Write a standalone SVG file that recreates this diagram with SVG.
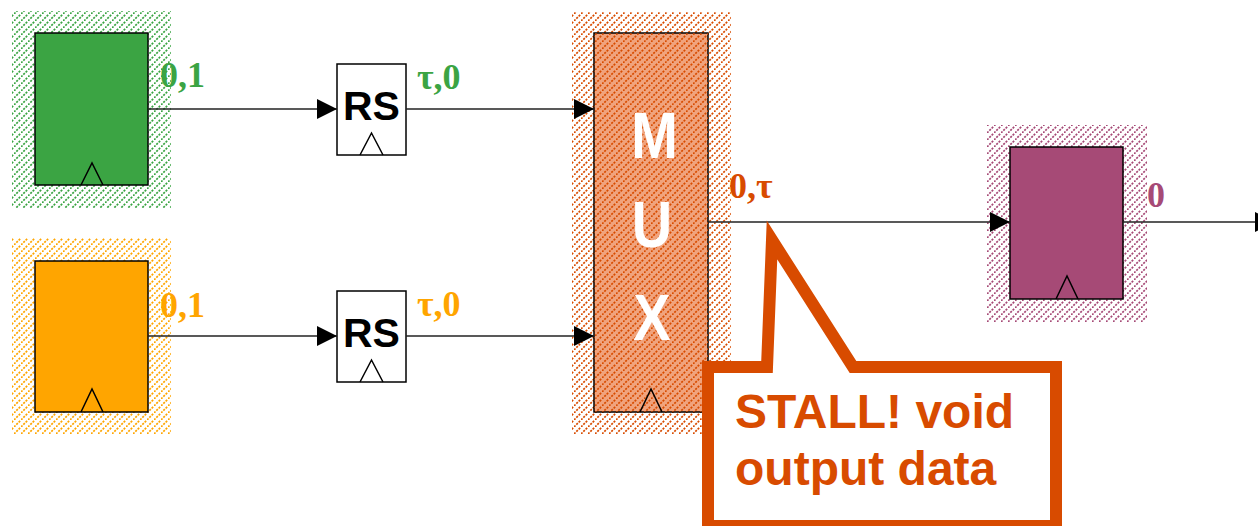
<svg xmlns="http://www.w3.org/2000/svg" width="1258" height="526" viewBox="0 0 1258 526">
<style>
.box{stroke:#000;stroke-width:1.5}
.clk{fill:none;stroke:#000;stroke-width:1.5}
.wire{stroke:#222;stroke-width:1.5;fill:none}
.lbl{font-family:"Liberation Serif",serif;font-weight:bold;font-size:36px}
.mux{font-family:"Liberation Sans",Arial,sans-serif;font-weight:bold;font-size:56px;fill:#fff;text-anchor:middle}
.rs{font-family:"Liberation Sans",Arial,sans-serif;font-weight:bold;font-size:41px;fill:#000;text-anchor:middle}
.call{font-family:"Liberation Sans",Arial,sans-serif;font-weight:bold;font-size:48px;fill:#D84B00}
.hl{stroke-width:1.7;stroke-dasharray:2.1 1.2;fill:none}
</style>
<defs>
<pattern id="hg" width="7" height="7" patternUnits="userSpaceOnUse"><path class="hl" d="M0,7 L7,0" stroke="#3BA443"/></pattern>
<pattern id="ho" width="7" height="7" patternUnits="userSpaceOnUse"><path class="hl" d="M0,7 L7,0" stroke="#FFA500"/></pattern>
<pattern id="hm" width="7" height="7" patternUnits="userSpaceOnUse"><path class="hl" d="M0,7 L7,0" stroke="#D84B00"/></pattern>
<pattern id="hp" width="7" height="7" patternUnits="userSpaceOnUse"><path class="hl" d="M0,7 L7,0" stroke="#A64A76"/></pattern>
<marker id="arr" markerUnits="userSpaceOnUse" markerWidth="20" markerHeight="20" refX="20" refY="10" orient="auto"><path d="M0,0 L20,10 L0,20 z" fill="#000"/></marker>
</defs>
<rect width="1258" height="526" fill="#fff"/>

<g id="reg-green">
<rect x="12" y="11" width="159" height="197" fill="url(#hg)"/>
<rect class="box" x="35" y="33" width="113" height="152" fill="#3BA443"/>
<path class="clk" d="M81,185 L92,163 L103,185"/>
</g>
<g id="reg-orange">
<rect x="12" y="238" width="159" height="196" fill="url(#ho)"/>
<rect class="box" x="35" y="261" width="113" height="151" fill="#FFA500"/>
<path class="clk" d="M81,412 L92,389 L103,412"/>
</g>
<g id="rs1">
<rect class="box" x="337" y="64" width="69" height="91" fill="#fff"/>
<path class="clk" d="M360,155 L371.5,133 L383,155"/>
<text class="rs" x="371.5" y="120">RS</text>
</g>
<g id="rs2">
<rect class="box" x="337" y="291" width="69" height="91" fill="#fff"/>
<path class="clk" d="M360,382 L371.5,360 L383,382"/>
<text class="rs" x="371.5" y="347">RS</text>
</g>
<g id="mux">
<rect x="572" y="12" width="159" height="422" fill="url(#hm)"/>
<rect class="box" x="594" y="33" width="114" height="379" fill="#F0A37D"/>
<rect x="594" y="33" width="114" height="379" fill="url(#hm)"/>
<path class="clk" d="M640,412 L651,389 L662,412"/>
<text class="mux" transform="translate(654.5,158) scale(1,1.15)">M</text>
<text class="mux" transform="translate(652,247) scale(1,1.15)">U</text>
<text class="mux" transform="translate(652,340) scale(1,1.15)">X</text>
</g>
<g id="reg-purple">
<rect x="987" y="125" width="160" height="197" fill="url(#hp)"/>
<rect class="box" x="1010" y="147" width="113" height="152" fill="#A64A76"/>
<path class="clk" d="M1056,299 L1067,276 L1078,299"/>
</g>

<g id="connectors">
<line class="wire" x1="148" y1="109" x2="337" y2="109" marker-end="url(#arr)"/>
<line class="wire" x1="406" y1="109" x2="594" y2="109" marker-end="url(#arr)"/>
<line class="wire" x1="148" y1="336" x2="337" y2="336" marker-end="url(#arr)"/>
<line class="wire" x1="406" y1="336" x2="594" y2="336" marker-end="url(#arr)"/>
<line class="wire" x1="708" y1="222" x2="1010" y2="222" marker-end="url(#arr)"/>
<line class="wire" x1="1123" y1="222" x2="1275" y2="222" marker-end="url(#arr)"/>
</g>

<g id="labels">
<text class="lbl" x="160" y="87" fill="#3BA443">0,1</text>
<text class="lbl" x="417" y="89" fill="#3BA443">τ,0</text>
<text class="lbl" x="160" y="317" fill="#FFA500">0,1</text>
<text class="lbl" x="417" y="316" fill="#FFA500">τ,0</text>
<text class="lbl" x="729" y="198" fill="#D84B00">0,τ</text>
<text class="lbl" x="1147" y="207" fill="#A64A76">0</text>
</g>

<g id="callout">
<path d="M708,367 L767,367 L772,240 L853,367 L1056,367 L1056,526 L708,526 Z" fill="#fff" stroke="#D84B00" stroke-width="12" stroke-miterlimit="10"/>
<text class="call" x="735" y="428">STALL! void</text>
<text class="call" x="735" y="485">output data</text>
</g>
</svg>
